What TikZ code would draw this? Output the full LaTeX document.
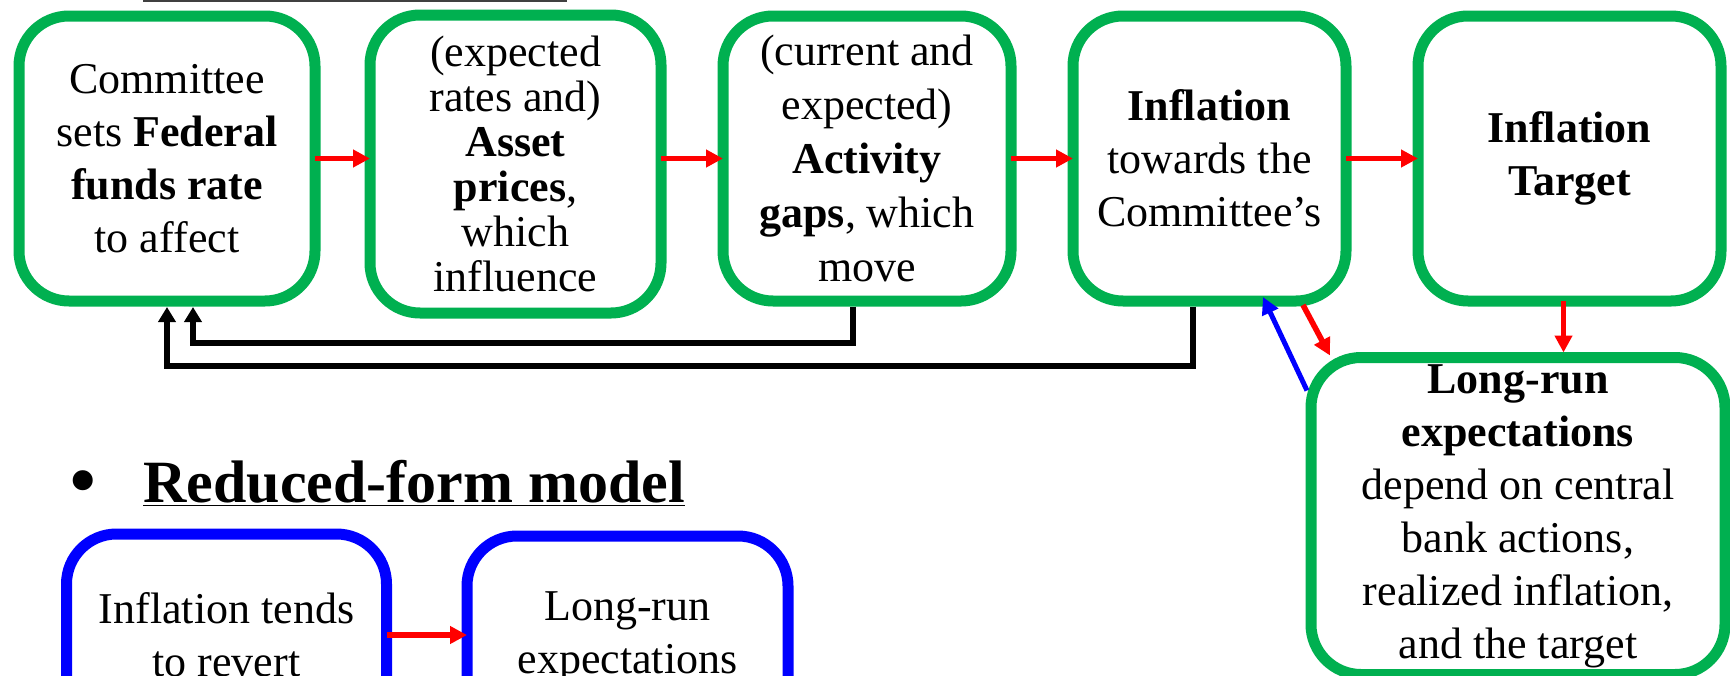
\documentclass[tikz,border=0pt]{standalone}
\usepackage{fontspec}
\setmainfont{Liberation Serif}
\usepackage{tikz}
\usetikzlibrary{positioning,calc,arrows.meta}
\definecolor{boxgreen}{RGB}{0,176,80}
\definecolor{boxblue}{RGB}{0,0,255}
\definecolor{arrred}{RGB}{255,0,0}

\begin{document}
\begin{tikzpicture}[x=0.5pt,y=0.5pt,
  stage/.style={draw=boxgreen,line width=5.5pt,rounded corners=25pt,align=center,
    inner sep=0pt,outer sep=0pt,font=\fontsize{22pt}{26.5pt}\selectfont},
  rfstage/.style={stage,draw=boxblue},
  push/.style={draw=arrred,line width=2.8pt,-{Triangle[length=8.5pt,width=8.5pt]}},
  pull/.style={draw=boxblue,line width=2.5pt,-{Triangle[length=8.5pt,width=8.5pt]}},
  feedback/.style={line width=2.7pt,-{Triangle[length=7.5pt,width=8.5pt]},
    shorten <=2.75pt,shorten >=3pt}]
  \useasboundingbox (0,0) rectangle (1730,-675);
  \clip (0,0) rectangle (1730,-675);

  % structural chain
  \draw[line width=1.2pt,black!75] (143,-1) -- (567,-1);
  \node[stage,minimum width=148pt,minimum height=142.5pt] (fedfunds) at (167,-158.5)
    {Committee\\sets \textbf{Federal}\\\textbf{funds rate}\\to affect};
  \node[stage,minimum width=145.5pt,minimum height=149pt,font=\fontsize{22pt}{22.5pt}\selectfont] (assets) at (515.5,-164)
    {(expected\\rates and)\\\textbf{Asset}\\\textbf{prices},\\which\\influence};
  \node[stage,minimum width=144pt,minimum height=142.5pt,font=\fontsize{22pt}{27pt}\selectfont] (gaps) at (867,-158.5)
    {(current and\\expected)\\\textbf{Activity}\\\textbf{gaps}, which\\move};
  \node[stage,minimum width=136.5pt,minimum height=142.5pt] (inflation) at (1209.5,-158.5)
    {\textbf{Inflation}\\towards the\\Committee’s};
  \node[stage,minimum width=151.5pt,minimum height=142.5pt] (target) at (1569.5,-158.5)
    {\textbf{Inflation}\\\textbf{Target}};
  \node[stage,minimum width=207pt,minimum height=158.5pt] (longrun) at (1518,-516)
    {\textbf{Long-run}\\\textbf{expectations}\\depend on central\\bank actions,\\realized inflation,\\and the target};

  \draw[push] (fedfunds.east) -- (fedfunds.east -| assets.west);
  \draw[push] (gaps.west -| assets.east) -- (gaps.west);
  \draw[push] (gaps.east) -- (inflation.west);
  \draw[push] (inflation.east) -- (target.west);
  \coordinate (tdrop) at ($(target.south)+(-6,0)$);
  \draw[push,shorten >=2.5pt] (tdrop) -- (tdrop |- longrun.north);
  \draw[push] ($(inflation.south)+(93.5,-4)$) -- ($(longrun.north west)+(19,2)$);
  \draw[pull] ($(longrun.north west)+(-4,-33)$) -- ($(inflation.south)+(53.5,4)$);

  \draw[feedback] ($(gaps.south)+(-14,0)$) -- ++(0,-42) -| ($(fedfunds.south)+(26,0)$);
  \draw[feedback] ($(inflation.south)+(-16.5,0)$) -- ++(0,-65) -| (fedfunds.south);

  % reduced form
  \node[anchor=base,inner sep=0pt,font=\fontsize{42pt}{48pt}\selectfont] (bullet) at (83,-508) {\textbullet};
  \node[anchor=base west,inner sep=0pt,font=\fontsize{30pt}{36pt}\selectfont\bfseries] (rfm) at (143,-502)
    {\underline{Reduced-form model}};
  \node[rfstage,minimum width=160pt,minimum height=101pt] (revert) at (226.5,-635)
    {Inflation tends\\to revert};
  \node[rfstage,minimum width=160.5pt,minimum height=101pt] (anchorexp) at (627.5,-637)
    {Long-run\\expectations};
  \draw[push] (revert.east) -- (anchorexp.west |- revert.east);
\end{tikzpicture}
\end{document}
